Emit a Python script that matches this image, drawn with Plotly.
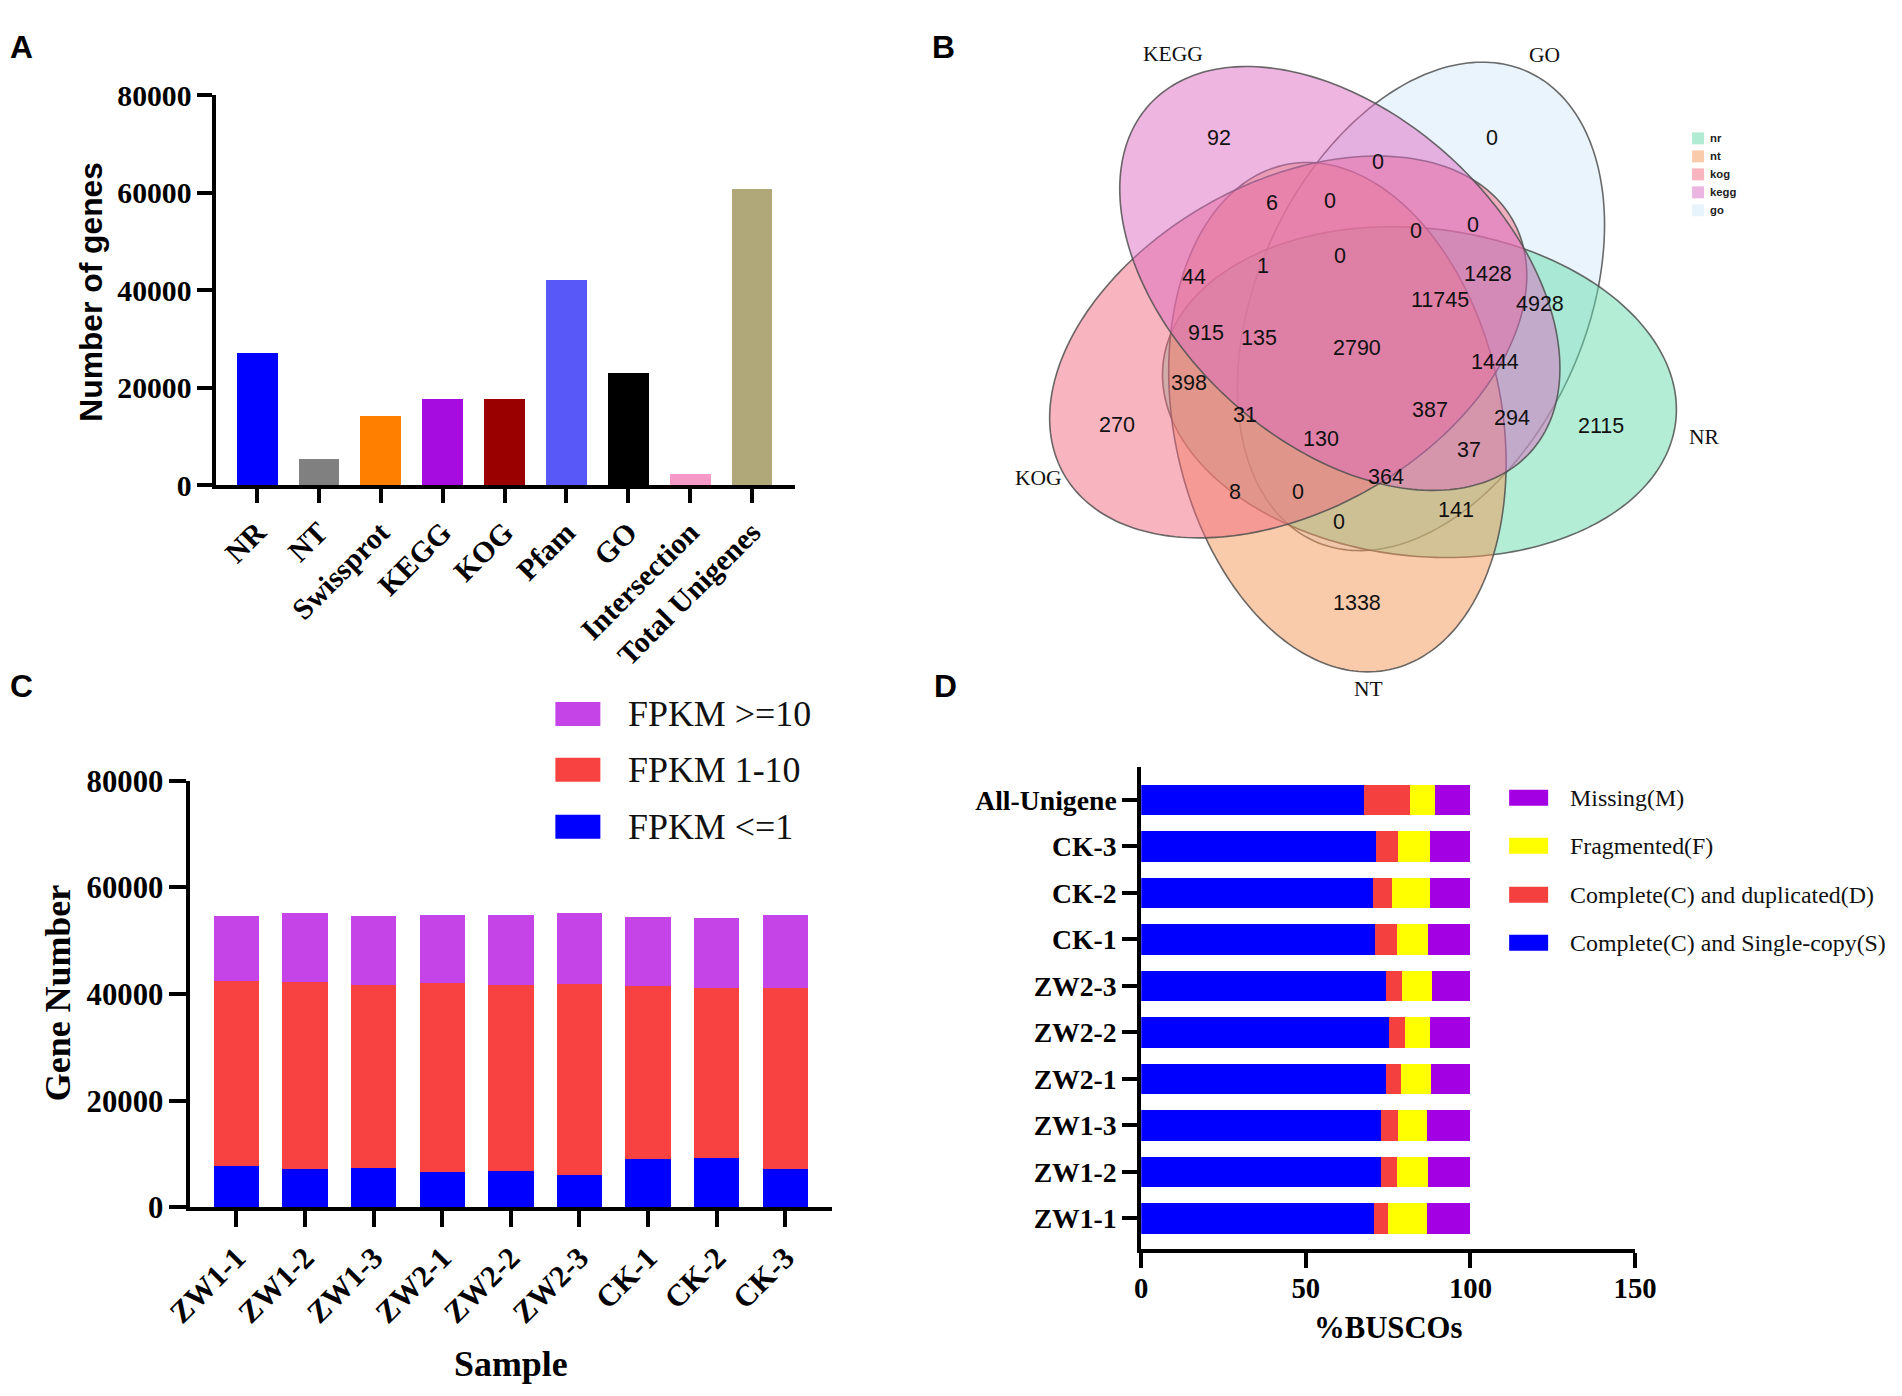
import numpy as np
import plotly.graph_objects as go

W, H = 1902, 1396

# The photographed page shows the figure slightly shrunk and offset; the
# helpers below place every element at its intended position in the photo.
SX, SY = 0.975, 0.9765
OX, OY = 34.5, 23.5
K = 1 / 0.976  # size factor


def px(x):
    return ((x - OX) / SX) / W


def py(y):
    return 1 - ((y - OY) / SY) / H


def fs(s):
    return round(s * K, 1)


SERIF = "Liberation Serif"
SANS = "Liberation Sans"

# ---------------- Panel A data ----------------
db_names = ["NR", "NT", "Swissprot", "KEGG", "KOG", "Pfam", "GO", "Intersection", "Total Unigenes"]
db_counts = [27100, 5300, 14200, 17700, 17700, 42100, 23000, 2200, 60800]
db_colors = ["#0000FF", "#808080", "#FF8000", "#A60BE0", "#9A0000", "#5858F8", "#000000", "#F59AC8", "#B0A878"]

# ---------------- Panel B data (Venn) ----------------
venn_sets = ["go", "nr", "nt", "kog", "kegg"]          # drawing order
venn_set_titles = {"nr": "NR", "nt": "NT", "kog": "KOG", "kegg": "KEGG", "go": "GO"}
venn_fill = {"nr": "rgba(103,219,173,0.5)", "nt": "rgba(243,151,85,0.5)",
             "kog": "rgba(241,105,127,0.5)", "kegg": "rgba(219,107,193,0.5)",
             "go": "rgba(213,233,249,0.5)"}
venn_legend_colors = {"nr": "#B2EBD4", "nt": "#FACBAA", "kog": "#F8B4BF", "kegg": "#ECB4E0", "go": "#E8F4FC"}
venn_legend_order = ["nr", "nt", "kog", "kegg", "go"]
venn_counts = [92, 0, 6, 0, 1, 0, 44, 915, 135, 0, 0, 0, 1428, 11745, 4928, 2790, 1444,
               398, 270, 31, 130, 8, 0, 0, 387, 294, 2115, 37, 364, 141, 1338]

# ---------------- Panel C data ----------------
samples = ["ZW1-1", "ZW1-2", "ZW1-3", "ZW2-1", "ZW2-2", "ZW2-3", "CK-1", "CK-2", "CK-3"]
fpkm_low = [7700, 7200, 7400, 6600, 6800, 6100, 9150, 9300, 7300]
fpkm_mid = [34700, 35100, 34400, 35400, 34900, 35800, 32450, 31800, 33800]
fpkm_high = [12200, 12900, 12800, 12800, 13100, 13400, 12800, 13200, 13700]

# ---------------- Panel D data ----------------
busco_samples = ["ZW1-1", "ZW1-2", "ZW1-3", "ZW2-1", "ZW2-2", "ZW2-3", "CK-1", "CK-2", "CK-3", "All-Unigene"]
busco_single = [70.7, 72.7, 72.7, 74.2, 75.3, 74.2, 71.1, 70.3, 71.4, 67.7]
busco_dup = [4.1, 5.0, 5.4, 4.7, 4.7, 5.0, 6.6, 5.8, 6.7, 13.9]
busco_frag = [12.0, 9.5, 8.7, 9.0, 7.6, 9.1, 9.5, 11.5, 9.5, 7.5]
busco_missing = [13.2, 12.8, 13.2, 12.1, 12.4, 11.7, 12.8, 12.4, 12.4, 10.9]

fig = go.Figure()

# ---- A ----
fig.add_trace(go.Bar(x=db_names, y=db_counts, marker=dict(color=db_colors, line=dict(width=0)),
                     xaxis="x", yaxis="y", showlegend=False))

# ---- C ----
c_cols = {"low": "#0000FF", "mid": "#F84242", "high": "#C444E8"}
for vals, key in [(fpkm_low, "low"), (fpkm_mid, "mid"), (fpkm_high, "high")]:
    fig.add_trace(go.Bar(x=samples, y=vals, marker=dict(color=c_cols[key], line=dict(width=0)),
                         xaxis="x2", yaxis="y2", showlegend=False))

# ---- D ----
d_cols = ["#0000FF", "#F54040", "#FFFF00", "#A400E4"]
for vals, col in zip([busco_single, busco_dup, busco_frag, busco_missing], d_cols):
    fig.add_trace(go.Bar(y=busco_samples, x=vals, orientation="h",
                         marker=dict(color=col, line=dict(width=0)),
                         xaxis="x3", yaxis="y3", showlegend=False))


def tfont(size):
    return dict(family=SERIF, size=fs(size), color="black", weight="bold")


axis_common = dict(showline=True, linewidth=4, linecolor="black", ticks="outside",
                   tickwidth=4, tickcolor="black", showgrid=False, zeroline=False)

fig.update_layout(
    width=W, height=H, margin=dict(l=0, r=0, t=0, b=0),
    paper_bgcolor="white", plot_bgcolor="rgba(0,0,0,0)",
    barmode="stack", bargap=0.34,
    font=dict(family=SERIF, color="black"),
    xaxis=dict(domain=[px(217), px(796)], anchor="y", type="category", range=[-0.657, 8.70],
               ticklen=14, tickangle=-45, tickfont=tfont(29), **axis_common),
    yaxis=dict(domain=[py(485), py(95)], anchor="x", range=[0, 80000], tickvals=[0, 20000, 40000, 60000, 80000],
               tickformat="d", ticklen=15, tickfont=tfont(29), **axis_common),
    xaxis2=dict(domain=[px(191), px(833)], anchor="y2", type="category", range=[-0.67, 8.685],
                ticklen=16, tickangle=-45, tickfont=tfont(30), **axis_common),
    yaxis2=dict(domain=[py(1208), py(781)], anchor="x2", range=[0, 80000], tickvals=[0, 20000, 40000, 60000, 80000],
                tickformat="d", ticklen=17, tickfont=tfont(30), **axis_common),
    xaxis3=dict(domain=[px(1142), px(1636)], anchor="y3", range=[0, 150], tickvals=[0, 50, 100, 150],
                ticklen=15, ticklabelstandoff=-5, tickfont=tfont(28), **axis_common),
    yaxis3=dict(domain=[py(1250), py(767)], anchor="x3", type="category", range=[-0.665, 9.71],
                ticklen=15, tickfont=tfont(27), **axis_common),
)

ann = []
shapes = []

# panel letters (top row kept fully inside the page)
for letter, lx in {"A": 22, "B": 944}.items():
    ann.append(dict(x=px(lx), y=0.998, xref="paper", yref="paper", text=letter, showarrow=False,
                    xanchor="center", yanchor="top",
                    font=dict(family=SANS, size=fs(31), color="black", weight="bold")))
for letter, (lx, ly) in {"C": (22, 686), "D": (946, 686)}.items():
    ann.append(dict(x=px(lx), y=py(ly), xref="paper", yref="paper", text=letter, showarrow=False,
                    xanchor="center", yanchor="middle",
                    font=dict(family=SANS, size=fs(31), color="black", weight="bold")))

# axis titles
ann.append(dict(x=px(92), y=py(291), xref="paper", yref="paper", text="Number of genes", textangle=-90,
                showarrow=False, xanchor="center", yanchor="middle",
                font=dict(family=SANS, size=fs(31), color="black", weight="bold")))
ann.append(dict(x=px(58), y=py(993), xref="paper", yref="paper", text="Gene Number", textangle=-90,
                showarrow=False, xanchor="center", yanchor="middle",
                font=dict(family=SERIF, size=fs(35), color="black", weight="bold")))
ann.append(dict(x=px(512), y=py(1365), xref="paper", yref="paper", text="Sample",
                showarrow=False, xanchor="center", yanchor="middle",
                font=dict(family=SERIF, size=fs(35), color="black", weight="bold")))
ann.append(dict(x=px(1389), y=py(1329), xref="paper", yref="paper", text="%BUSCOs",
                showarrow=False, xanchor="center", yanchor="middle",
                font=dict(family=SERIF, size=fs(30), color="black", weight="bold")))

# legend C
c_leg = [("FPKM >=10", c_cols["high"], 714), ("FPKM 1-10", c_cols["mid"], 770), ("FPKM <=1", c_cols["low"], 827)]
for txt, col, yc in c_leg:
    shapes.append(dict(type="rect", xref="paper", yref="paper", x0=px(556), x1=px(601),
                       y0=py(yc + 12), y1=py(yc - 12), fillcolor=col, line=dict(width=0)))
    ann.append(dict(x=px(627), y=py(yc), xref="paper", yref="paper", text=txt, showarrow=False,
                    xanchor="left", yanchor="middle", font=dict(family=SERIF, size=fs(35), color="#111")))

# legend D
d_leg = [("Missing(M)", d_cols[3], 798), ("Fragmented(F)", d_cols[2], 846),
         ("Complete(C) and duplicated(D)", d_cols[1], 895), ("Complete(C) and Single-copy(S)", d_cols[0], 943)]
for txt, col, yc in d_leg:
    shapes.append(dict(type="rect", xref="paper", yref="paper", x0=px(1510), x1=px(1549),
                       y0=py(yc + 8), y1=py(yc - 8), fillcolor=col, line=dict(width=0)))
    ann.append(dict(x=px(1569), y=py(yc), xref="paper", yref="paper", text=txt, showarrow=False,
                    xanchor="left", yanchor="middle", font=dict(family=SERIF, size=fs(23.3), color="#111")))

# ---- B : five-set Venn (geometry in page pixels) ----
VC = (1362, 348)
DIST, DELTA, GAMMA, A_AX, B_AX = 73, 19, -11.5, 258, 164
set_angle = {"nr": 18, "nt": 90, "kog": 162, "kegg": -126, "go": -54}


def ellipse_path(cx, cy, a, b, ang_deg):
    t = np.linspace(0, 2 * np.pi, 241)
    ca, sa = np.cos(np.radians(ang_deg)), np.sin(np.radians(ang_deg))
    xs = cx + a * np.cos(t) * ca - b * np.sin(t) * sa
    ys = cy + a * np.cos(t) * sa + b * np.sin(t) * ca
    pts = [f"{px(x):.5f},{py(y):.5f}" for x, y in zip(xs, ys)]
    return "M " + " L ".join(pts) + " Z"


for s in venn_sets:
    al = set_angle[s]
    cx = VC[0] + DIST * np.cos(np.radians(al + DELTA))
    cy = VC[1] + DIST * np.sin(np.radians(al + DELTA))
    shapes.append(dict(type="path", xref="paper", yref="paper", path=ellipse_path(cx, cy, A_AX, B_AX, al + GAMMA),
                       fillcolor=venn_fill[s], line=dict(color="rgba(80,80,80,0.85)", width=1.6), layer="above"))

venn_label_pos = [(1220, 138), (1493, 138), (1273, 203), (1331, 201), (1264, 266), (1341, 256), (1195, 277),
                  (1207, 333), (1260, 338), (1379, 162), (1417, 231), (1474, 225), (1489, 274), (1441, 300),
                  (1541, 304), (1358, 348), (1496, 362), (1190, 383), (1118, 425), (1246, 415), (1322, 439),
                  (1236, 492), (1299, 492), (1340, 522), (1431, 410), (1513, 418), (1602, 426), (1470, 450),
                  (1387, 477), (1457, 510), (1358, 603)]
for val, (lx, ly) in zip(venn_counts, venn_label_pos):
    ann.append(dict(x=px(lx), y=py(ly), xref="paper", yref="paper", text=str(val), showarrow=False,
                    xanchor="center", yanchor="middle", font=dict(family=SANS, size=fs(21), color="#111")))

set_label_pos = {"kegg": (1174, 54), "go": (1545, 55), "nr": (1705, 437), "nt": (1369, 689), "kog": (1039, 478)}
for s, (lx, ly) in set_label_pos.items():
    ann.append(dict(x=px(lx), y=py(ly), xref="paper", yref="paper", text=venn_set_titles[s], showarrow=False,
                    xanchor="center", yanchor="middle", font=dict(family=SERIF, size=fs(21), color="#111")))

leg_rows = [138, 156, 174, 192, 210]
for s, yc in zip(venn_legend_order, leg_rows):
    shapes.append(dict(type="rect", xref="paper", yref="paper", x0=px(1693), x1=px(1705),
                       y0=py(yc + 6), y1=py(yc - 6), fillcolor=venn_legend_colors[s], line=dict(width=0)))
    ann.append(dict(x=px(1709), y=py(yc), xref="paper", yref="paper", text=s, showarrow=False,
                    xanchor="left", yanchor="middle",
                    font=dict(family=SANS, size=fs(11), color="#222", weight="bold")))

fig.update_layout(annotations=ann, shapes=shapes)
fig.write_html("out.html")
